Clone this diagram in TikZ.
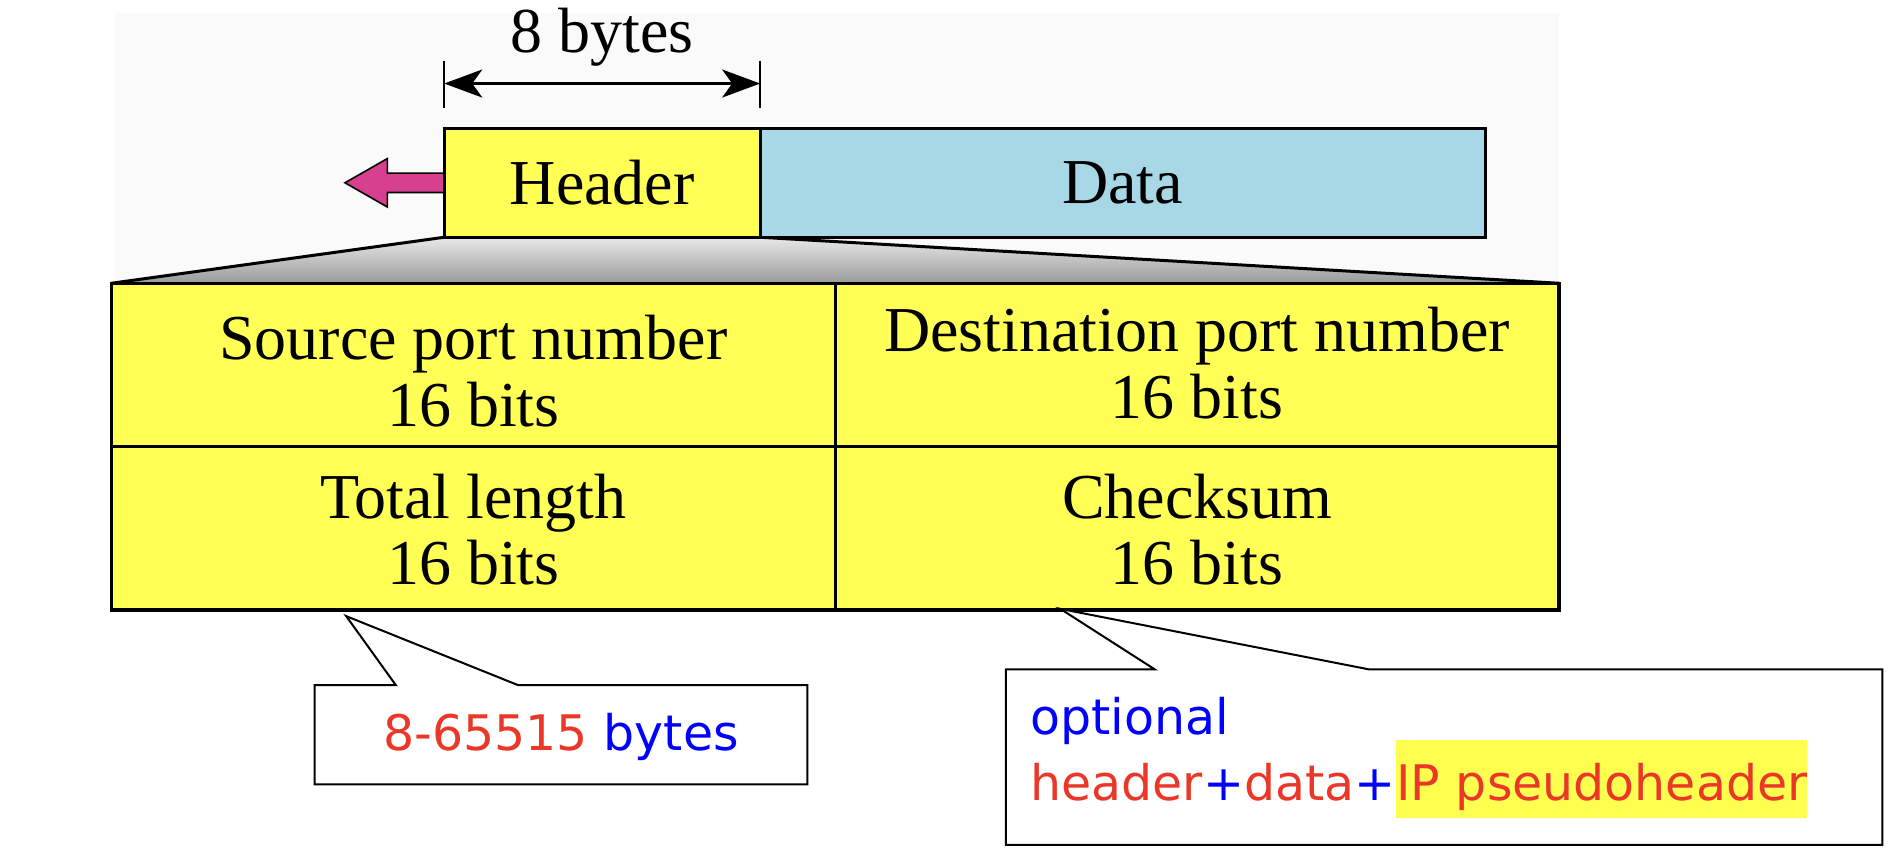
\documentclass[tikz,border=0pt]{standalone}
\usepackage{fontspec}
\setmainfont{Liberation Serif}
\newfontfamily\comicfont{DejaVu Sans}
\usetikzlibrary{arrows.meta,calc,fit,backgrounds}
\definecolor{pktyellow}{RGB}{255,255,85}
\definecolor{pktblue}{RGB}{168,216,230}
\definecolor{pktpink}{RGB}{214,64,143}
\definecolor{notered}{RGB}{235,55,40}
\definecolor{noteblue}{RGB}{0,0,255}
\definecolor{hilite}{RGB}{255,255,80}
\definecolor{bgdots}{RGB}{250,250,250}
\tikzset{
  serif/.style={font=\fontsize{32}{38}\selectfont},
  notefont/.style={font=\comicfont\fontsize{24.5}{30}\selectfont},
  pktbox/.style={draw, line width=1.6pt, inner sep=0pt, outer sep=0pt},
  cellbox/.style={pktbox, fill=pktyellow},
  lbl/.style={serif, anchor=base, inner sep=0pt},
  note/.style={draw, line width=1pt, fill=white, line join=miter},
  dimline/.style={line width=1.2pt},
  dimarrow/.style={dimline, {Stealth[length=19pt,width=14pt,inset=5pt]}-{Stealth[length=19pt,width=14pt,inset=5pt]}}
}
\begin{document}
\begin{tikzpicture}[x=0.6053pt,y=-0.6053pt]
\useasboundingbox (0,0) rectangle (1568,710);

% top packet
\node[pktbox, fill=pktyellow, fit={(367,106) (628,196)}] (header) {};
\node[serif] at (header.center) (headertxt) {Header};
\node[pktbox, fill=pktblue, fit={(628,106) (1227,196)}] (data) {};
\node[serif] at (data.center) (datatxt) {Data};

% header fields table
\node[cellbox, fit={(92,234) (690,369)}] (c11) {};
\node[cellbox, fit={(690,234) (1288,369)}] (c12) {};
\node[cellbox, fit={(92,369) (690,504)}] (c21) {};
\node[cellbox, fit={(690,369) (1288,504)}] (c22) {};

\node[lbl] (t11a) at (391,297) {Source port number};
\node[lbl] (t11b) at (391,352) {16 bits};
\node[lbl] (t12a) at (989,290) {Destination port number};
\node[lbl] (t12b) at (989,346) {16 bits};
\node[lbl] (t21a) at (391,428) {Total length};
\node[lbl] (t21b) at (391,483) {16 bits};
\node[lbl] (t22a) at (989,428) {Checksum};
\node[lbl] (t22b) at (989,483) {16 bits};

\begin{scope}[on background layer]
  \fill[bgdots] (95,11) rectangle (1288,234);
  \shade[top color=gray!18, bottom color=gray!80]
    (header.south west) -- (header.south east) -- (c12.north east) -- (c11.north west) -- cycle;
  \draw[line width=1.5pt] (header.south west) -- (c11.north west);
  \draw[line width=1.5pt] (header.south east) -- (c12.north east);
  % pink arrow
  \draw[fill=pktpink, line width=0.8pt, line join=miter]
    (367,143) -- (320,143) -- (320,131) -- (285,151) -- (320,171) -- (320,159) -- (367,159);
\end{scope}

% dimension 8 bytes
\coordinate (tl1) at (367,50);
\coordinate (tl2) at (367,89);
\coordinate (tr1) at (628,50);
\coordinate (tr2) at (628,89);
\coordinate (al) at (367,69);
\coordinate (ar) at (628,69);
\draw[dimline] (tl1) -- (tl2);
\draw[dimline] (tr1) -- (tr2);
\draw[dimarrow] (al) -- (ar);
\node[lbl] (eightbytes) at (497.5,43) {8 bytes};

% callout 1
\coordinate (tipA) at (286,509);
\draw[note] (260,566) -- (327,566) -- (tipA) -- (428,566) -- (667,566) -- (667,648) -- (260,648) -- cycle;
\node[notefont, anchor=base, inner sep=0pt] (lennote) at (463.5,620)
  {\textcolor{notered}{8-65515} \textcolor{noteblue}{bytes}};

% callout 2
\coordinate (tipB) at (876,503);
\draw[note] (831,553) -- (954,553) -- (tipB) -- (1131,553) -- (1555,553) -- (1555,698) -- (831,698) -- cycle;
\node[notefont, anchor=base west, inner sep=0pt, text=noteblue] (opt) at (851,607) {optional};
\node[notefont, anchor=base west, inner sep=0pt] (hdrdata) at (851,661)
  {\textcolor{notered}{header}\textcolor{noteblue}{+}\textcolor{notered}{data}\textcolor{noteblue}{+}};
\node[notefont, anchor=base west, inner sep=0pt, fill=hilite, text=notered,
      text height=30pt, text depth=9pt] (ipnote) at (hdrdata.base east) {IP pseudoheader};
\end{tikzpicture}
\end{document}
